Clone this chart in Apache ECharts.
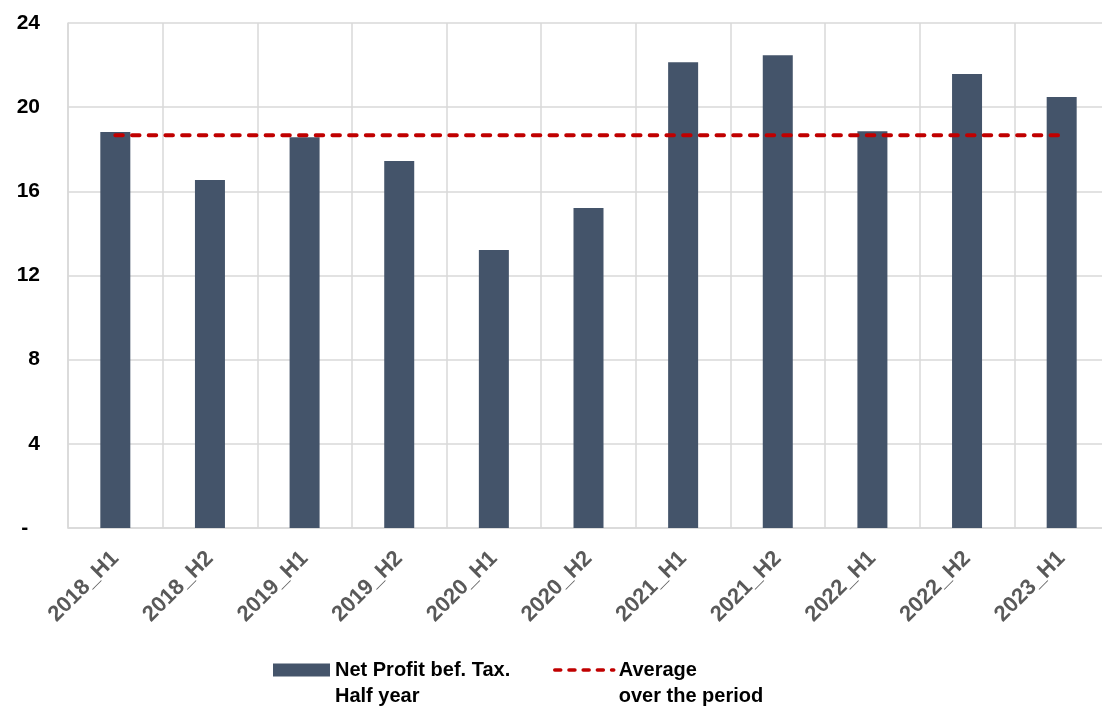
<!DOCTYPE html>
<html>
<head>
<meta charset="utf-8">
<script src="https://cdn.jsdelivr.net/npm/echarts@6/dist/echarts.min.js"></script>
<style>
  html, body { margin: 0; padding: 0; background: #fff; }
  #chart { width: 1102px; height: 708px; }
</style>
</head>
<body>
<div id="chart"></div>
<script>
const periods = ['2018_H1', '2018_H2', '2019_H1', '2019_H2', '2020_H1', '2020_H2',
  '2021_H1', '2021_H2', '2022_H1', '2022_H2', '2023_H1']
const profitValues = [18.82, 16.54, 18.57, 17.44, 13.21, 15.21, 22.14, 22.47, 18.85, 21.58, 20.48]
const averageValues = [18.66, 18.66, 18.66, 18.66, 18.66, 18.66, 18.66, 18.66, 18.66, 18.66, 18.66]
const yTicks = [0, 4, 8, 12, 16, 20, 24]

const font = '"Liberation Sans", Arial, sans-serif'
const barName = 'Net Profit bef. Tax.\nHalf year'
const lineName = 'Average\nover the period'

const chart = echarts.init(document.getElementById('chart'))

// leading blank line so the icon sits level with the first text line
const legendBase = {
  top: 631,
  padding: 0,
  itemHeight: 13,
  formatter: (name) => '\n' + name,
  textStyle: {
    fontFamily: font,
    fontSize: 20,
    fontWeight: 'bold',
    color: '#000',
    lineHeight: 26,
  },
}

chart.setOption({
  animation: false,
  textStyle: { fontFamily: font },
  grid: { left: 68, right: -7, top: 23, bottom: 180, outerBoundsMode: 'none' },
  legend: [
    { ...legendBase, data: [barName], left: 273, itemWidth: 57, icon: 'rect' },
    {
      ...legendBase,
      data: [lineName],
      left: 553,
      itemWidth: 59,
      itemStyle: { opacity: 0 },
      lineStyle: { color: '#c00000', width: 3.5, type: [6, 8.2], cap: 'round' },
    },
  ],
  xAxis: {
    type: 'category',
    data: periods,
    boundaryGap: true,
    axisLine: { lineStyle: { color: '#d9d9d9', width: 1.5 } },
    axisTick: { show: false },
    splitLine: { show: true, lineStyle: { color: '#d9d9d9', width: 1.5 } },
    axisLabel: {
      rotate: 45,
      interval: 0,
      margin: 27,
      fontSize: 22,
      fontWeight: 'bold',
      color: '#595959',
      fontFamily: font,
    },
  },
  yAxis: {
    type: 'value',
    min: yTicks[0],
    max: yTicks[yTicks.length - 1],
    interval: 4,
    axisLine: { show: true, lineStyle: { color: '#d9d9d9', width: 1.5 } },
    axisTick: { show: false },
    splitLine: { lineStyle: { color: '#d9d9d9', width: 1.5 } },
    axisLabel: {
      margin: 28,
      fontSize: 21,
      fontWeight: 'bold',
      color: '#000',
      fontFamily: font,
      formatter: (v) => (v === 0 ? '-  ' : String(v)),
    },
  },
  series: [
    {
      name: barName,
      type: 'bar',
      data: profitValues,
      barWidth: 30,
      itemStyle: { color: '#44546a' },
    },
    {
      name: lineName,
      type: 'line',
      data: averageValues,
      symbol: 'none',
      lineStyle: { color: '#c00000', width: 4, type: [7.5, 9.2], cap: 'round' },
      itemStyle: { color: '#c00000' },
      z: 5,
    },
  ],
})
</script>
</body>
</html>
